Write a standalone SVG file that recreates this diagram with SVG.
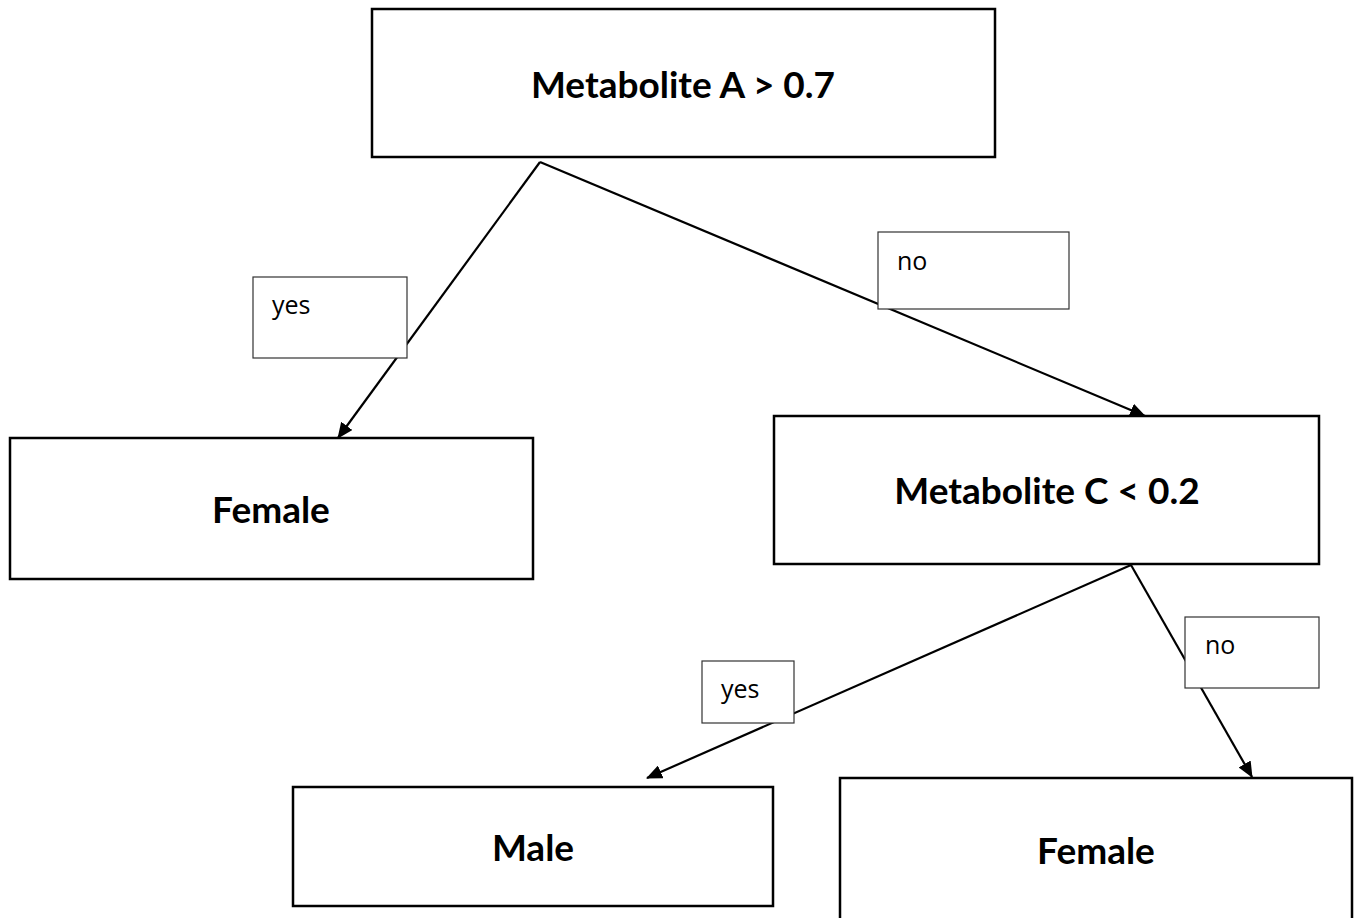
<svg xmlns="http://www.w3.org/2000/svg" width="1358" height="918" viewBox="0 0 1358 918">
<defs>
<style>
.node{fill:#fff;stroke:#000;stroke-width:2.5}
.lbl{fill:#fff;stroke:#333;stroke-width:1.2}
.nt{font-family:Lato,"Liberation Sans",sans-serif;font-weight:bold;font-size:37px;fill:#000;text-anchor:middle}
.lt{font-family:"Open Sans","Liberation Sans",sans-serif;font-size:25px;fill:#000}
</style>
<marker id="arrb" markerWidth="16" markerHeight="14" refX="15" refY="7" orient="auto" markerUnits="userSpaceOnUse" viewBox="0 0 16 14">
<path d="M0,0 L16,7 L0,14 z" fill="#000"/>
</marker>
</defs>
<rect width="1358" height="918" fill="#fff"/>
<g id="connectors">
<line x1="540" y1="162" x2="338" y2="438" stroke="#000" stroke-width="2.2" marker-end="url(#arrb)"/>
<line x1="540" y1="162" x2="1145" y2="416" stroke="#000" stroke-width="2.2" marker-end="url(#arrb)"/>
<line x1="1131" y1="565" x2="647" y2="778" stroke="#000" stroke-width="2.2" marker-end="url(#arrb)"/>
<line x1="1131" y1="565" x2="1252" y2="777" stroke="#000" stroke-width="2.2" marker-end="url(#arrb)"/>
</g>
<g id="node-root">
<rect class="node" x="372" y="9" width="623" height="148"/>
<text class="nt" x="683" y="98">Metabolite A &gt; 0.7</text>
</g>
<g id="node-female-left">
<rect class="node" x="10" y="438" width="523" height="141"/>
<text class="nt" x="271" y="523">Female</text>
</g>
<g id="node-metc">
<rect class="node" x="774" y="416" width="545" height="148"/>
<text class="nt" x="1047" y="504">Metabolite C &lt; 0.2</text>
</g>
<g id="node-male">
<rect class="node" x="293" y="787" width="480" height="119"/>
<text class="nt" x="533" y="861">Male</text>
</g>
<g id="node-female-right">
<rect class="node" x="840" y="778" width="512" height="150"/>
<text class="nt" x="1096" y="864">Female</text>
</g>
<g id="label-yes1">
<rect class="lbl" x="253" y="277" width="154" height="81"/>
<text class="lt" x="272" y="314">yes</text>
</g>
<g id="label-no1">
<rect class="lbl" x="878" y="232" width="191" height="77"/>
<text class="lt" x="897" y="270">no</text>
</g>
<g id="label-yes2">
<rect class="lbl" x="702" y="661" width="92" height="62"/>
<text class="lt" x="721" y="698">yes</text>
</g>
<g id="label-no2">
<rect class="lbl" x="1185" y="617" width="134" height="71"/>
<text class="lt" x="1205" y="654">no</text>
</g>
</svg>
